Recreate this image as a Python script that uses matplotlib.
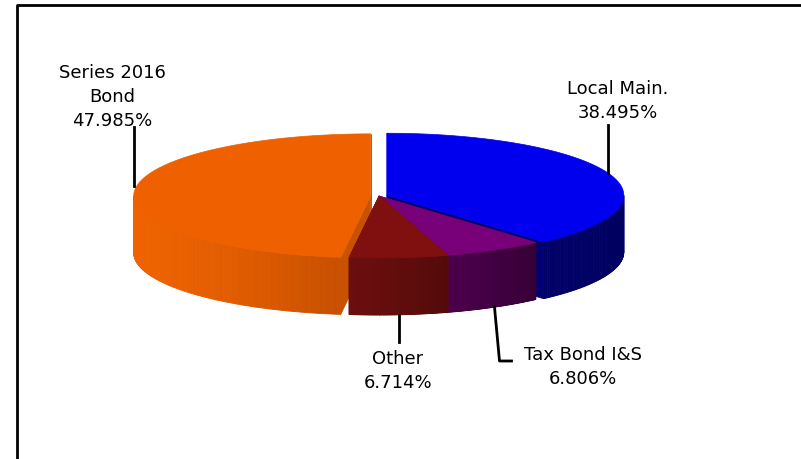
import numpy as np
import matplotlib
matplotlib.use("Agg")
import matplotlib.pyplot as plt
from matplotlib.patches import Polygon
from matplotlib.colors import to_rgb

# ---- data ----
labels = ["Local Main.", "Tax Bond I&S", "Other", "Series 2016\nBond"]
values = [38.495, 6.806, 6.714, 47.985]

# ---- style ----
top_colors = ["#0000EE", "#780078", "#801010", "#EF6000"]
wall_left = ["#000068", "#4A004A", "#6A0E0E", "#EE6200"]
wall_right = ["#000060", "#360036", "#540A0A", "#C85000"]
cut_colors = ["#000070", "#4A004A", "#6A0E0E", "#C85200"]
explode = [0.035, 0.0, 0.0, 0.035]

W, H = 801, 460
fig = plt.figure(figsize=(W / 100, H / 100), dpi=100)
ax = fig.add_axes([0, 0, 1, 1])
ax.set_xlim(0, W)
ax.set_ylim(H, 0)
ax.axis("off")

# frame
ax.plot([17, 17, W + 5], [H + 5, 5.5, 5.5], color="black", lw=2, solid_capstyle="butt")

cx, cy, rx, ry, depth = 379, 197, 237, 62, 57

fracs = np.array(values) / np.sum(values)
starts = 90 - 360 * np.concatenate([[0], np.cumsum(fracs[:-1])])
ends = starts - 360 * fracs
mids = (starts + ends) / 2


def pt(theta, ox, oy, z=0.0):
    t = np.radians(theta)
    return ox + rx * np.cos(t), oy - ry * np.sin(t) + z


def mix(c1, c2, f):
    a = np.array(to_rgb(c1))
    b = np.array(to_rgb(c2))
    return tuple(a + (b - a) * f)


origins = []
for i in range(len(values)):
    m = np.radians(mids[i])
    ox = cx + explode[i] * rx * np.cos(m)
    oy = cy - explode[i] * ry * np.sin(m)
    origins.append((ox, oy))

order = [0, 3, 1, 2]
for i in order:
    ox, oy = origins[i]
    s, e = starts[i], ends[i]
    # cut faces
    for a in (s, e):
        p0 = pt(a, ox, oy)
        quad = [(ox, oy), p0, (p0[0], p0[1] + depth), (ox, oy + depth)]
        ax.add_patch(Polygon(quad, closed=True, facecolor=cut_colors[i],
                             edgecolor=cut_colors[i], lw=0.5))
    # outer wall (front half only)
    n = 200
    angs = np.linspace(e, s, n)
    front = [(angs[k], angs[k + 1]) for k in range(n - 1)
             if np.sin(np.radians((angs[k] + angs[k + 1]) / 2)) < 0]
    if front:
        xs = [pt(a0, ox, oy)[0] for a0, _ in front]
        xmin, xmax = min(xs), max(xs)
        for a0, a1 in front:
            p0 = pt(a0, ox, oy)
            p1 = pt(a1, ox, oy)
            f = 0 if xmax == xmin else ((p0[0] + p1[0]) / 2 - xmin) / (xmax - xmin)
            c = mix(wall_left[i], wall_right[i], f ** 1.5)
            quad = [p0, p1, (p1[0], p1[1] + depth), (p0[0], p0[1] + depth)]
            ax.add_patch(Polygon(quad, closed=True, facecolor=c, edgecolor=c, lw=0.6))
    # top face
    arc = np.linspace(s, e, 200)
    poly = [(ox, oy)] + [pt(a, ox, oy) for a in arc]
    ax.add_patch(Polygon(poly, closed=True, facecolor=top_colors[i],
                         edgecolor=top_colors[i], lw=0.5))

# ---- labels with leader lines ----
pct = [f"{v:.3f}%" for v in values]
fs = 13
fam = "DejaVu Sans"
ls = 1.42

# Local Main (top right)
ox, oy = origins[0]
axp = pt(mids[0], ox, oy)
ax.plot([axp[0], axp[0]], [126, axp[1]], color="black", lw=2)
ax.text(618, 101, f"{labels[0]}\n{pct[0]}", ha="center", va="center",
        fontsize=fs, family=fam, linespacing=ls)

# Series 2016 (top left)
ox, oy = origins[3]
axp = pt(mids[3], ox, oy)
ax.plot([axp[0], axp[0]], [128, axp[1] - 6], color="black", lw=2)
ax.text(112, 97, f"{labels[3]}\n{pct[3]}", ha="center", va="center",
        fontsize=fs, family=fam, linespacing=ls)

# Tax Bond (bottom right)
ox, oy = origins[1]
axp = pt(mids[1], ox, oy, depth)
ax.plot([axp[0], axp[0] + 5, axp[0] + 17], [axp[1], 362, 362], color="black", lw=2)
ax.text(583, 367, f"{labels[1]}\n{pct[1]}", ha="center", va="center",
        fontsize=fs, family=fam, linespacing=ls)

# Other (bottom)
ox, oy = origins[2]
axp = pt(mids[2], ox, oy, depth)
ax.plot([axp[0], axp[0]], [axp[1], 343], color="black", lw=2)
ax.text(398, 371, f"{labels[2]}\n{pct[2]}", ha="center", va="center",
        fontsize=fs, family=fam, linespacing=ls)

fig.savefig("out.png", dpi=100)
